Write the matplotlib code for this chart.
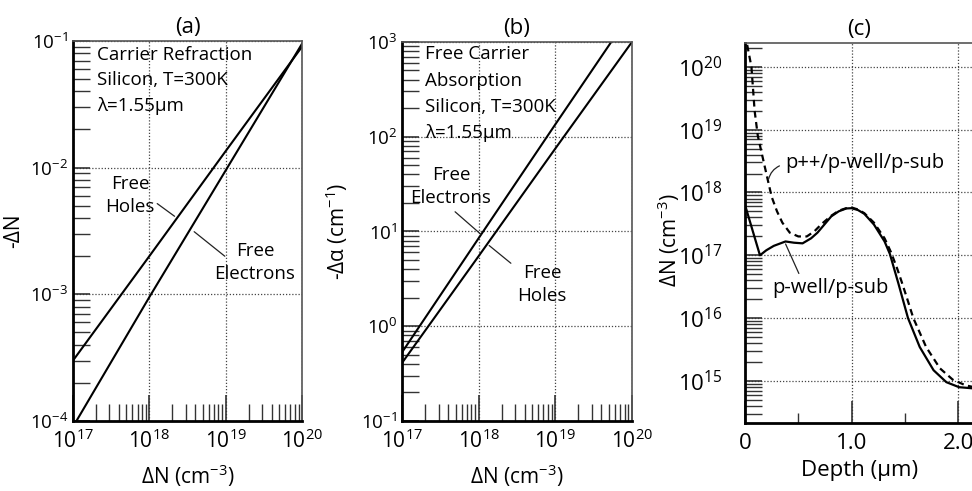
import numpy as np
import matplotlib
matplotlib.use("Agg")
import matplotlib.pyplot as plt
from matplotlib.ticker import LogLocator, FixedLocator, FuncFormatter, NullFormatter

plt.rcParams['font.family'] = ['Open Sans', 'DejaVu Sans']
plt.rcParams['mathtext.fontset'] = 'custom'
plt.rcParams['mathtext.rm'] = 'Open Sans'
plt.rcParams['mathtext.it'] = 'Open Sans:italic'
plt.rcParams['mathtext.bf'] = 'Open Sans:bold'

# --- data ---
# (a) carrier refraction, silicon, 1.55 um
dn_conc = [1e17, 1e18, 1e19, 1e20]
refr_holes = [3.0e-4, 2.0e-3, 1.35e-2, 9.0e-2]
refr_electrons = [9.0e-5, 9.5e-4, 9.5e-3, 9.5e-2]

# (b) free carrier absorption
abs_electrons = [0.53, 8.5, 135.0, 2100.0]
abs_holes = [0.41, 5.5, 75.0, 1000.0]

# (c) doping profiles vs depth
depth_pwell = [0.0, 0.14, 0.20, 0.27, 0.38, 0.46, 0.54, 0.62, 0.68, 0.75, 0.81,
               0.88, 0.95, 1.00, 1.06, 1.12, 1.21, 1.31, 1.36, 1.44, 1.53, 1.64,
               1.77, 1.89, 2.01, 2.15]
log_pwell = [17.80, 17.00, 17.08, 17.15, 17.22, 17.20, 17.19, 17.27, 17.36, 17.50,
             17.62, 17.70, 17.745, 17.75, 17.72, 17.66, 17.49, 17.22, 17.02, 16.55,
             16.00, 15.54, 15.17, 14.98, 14.90, 14.88]
depth_pplus = [0.02, 0.06, 0.09, 0.12, 0.16, 0.20, 0.25, 0.30, 0.35, 0.42, 0.50,
               0.58, 0.65, 0.72, 0.81, 0.88, 0.95, 1.00, 1.06, 1.12, 1.21, 1.31,
               1.37, 1.43, 1.47, 1.52, 1.58, 1.70, 1.83, 1.95, 2.07, 2.15]
log_pplus = [20.35, 20.00, 19.30, 18.90, 18.60, 18.30, 17.93, 17.70, 17.52, 17.36,
             17.30, 17.30, 17.38, 17.50, 17.63, 17.71, 17.75, 17.76, 17.73, 17.67,
             17.52, 17.27, 17.05, 16.78, 16.58, 16.32, 16.00, 15.54, 15.20, 15.02,
             14.93, 14.90]

grid_kw = dict(color='#444444', linestyle=(0, (1, 1.5)), linewidth=0.9)
note_fs = 13.5


def pow10(v, pos):
    return r'$10^{%d}$' % int(round(np.log10(v)))


def style_log_axes(ax, ylo, yhi):
    ax.set_xscale('log')
    ax.set_yscale('log')
    ax.set_xlim(1e17, 1e20)
    ax.set_ylim(ylo, yhi)
    ax.xaxis.set_major_locator(LogLocator(base=10, numticks=10))
    ax.xaxis.set_minor_locator(LogLocator(base=10, subs=np.arange(2, 10), numticks=10))
    ax.yaxis.set_major_locator(LogLocator(base=10, numticks=10))
    ax.yaxis.set_minor_locator(LogLocator(base=10, subs=np.arange(2, 10), numticks=10))
    ax.xaxis.set_major_formatter(FuncFormatter(pow10))
    ax.yaxis.set_major_formatter(FuncFormatter(pow10))
    ax.xaxis.set_minor_formatter(NullFormatter())
    ax.yaxis.set_minor_formatter(NullFormatter())
    ax.tick_params(which='both', direction='in', top=False, right=False, color='#333333')
    ax.tick_params(axis='x', which='major', length=19, width=1.2, labelsize=15, pad=6)
    ax.tick_params(axis='x', which='minor', length=12, width=1.0)
    ax.tick_params(axis='y', which='major', length=12, width=1.2, labelsize=13.5, pad=3.5)
    ax.tick_params(axis='y', which='minor', length=12, width=1.0)
    ax.grid(True, which='major', **grid_kw)
    for s in ['left', 'bottom']:
        ax.spines[s].set_linewidth(2.0)
    for s in ['top', 'right']:
        ax.spines[s].set_linewidth(1.2)
        ax.spines[s].set_color('#555555')


fig = plt.figure(figsize=(9.72, 4.91), dpi=100)

# ---------------- (a) ----------------
ax1 = fig.add_axes([0.0751, 0.1426, 0.2356, 0.774])
style_log_axes(ax1, 1e-4, 1e-1)
ax1.plot(dn_conc, refr_holes, color='black', lw=1.5)
ax1.plot(dn_conc, refr_electrons, color='black', lw=1.5)
ax1.set_title('(a)', fontsize=16, pad=6)
ax1.set_xlabel('ΔN (cm$^{-3}$)', fontsize=15)
ax1.set_ylabel('-ΔN', fontsize=15)
ax1.xaxis.set_label_coords(0.5, -0.108)
ax1.yaxis.set_label_coords(-0.215, 0.5)
for txt, yy in zip(['Carrier Refraction', 'Silicon, T=300K', 'λ=1.55µm'],
                   [0.963, 0.897, 0.829]):
    ax1.text(0.105, yy, txt, transform=ax1.transAxes, ha='left', va='center', fontsize=note_fs)
ax1.text(0.249, 0.593, 'Free\nHoles', transform=ax1.transAxes, ha='center',
         va='center', fontsize=note_fs, linespacing=1.35)
ax1.text(0.795, 0.418, 'Free\nElectrons', transform=ax1.transAxes, ha='center',
         va='center', fontsize=note_fs, linespacing=1.35)
ax1.annotate('', xy=(10**18.36, 10**-2.397), xytext=(10**18.074, 10**-2.271),
             arrowprops=dict(arrowstyle='-', lw=0.9, color='#222222'))
ax1.annotate('', xy=(10**18.559, 10**-2.492), xytext=(10**19.017, 10**-2.713),
             arrowprops=dict(arrowstyle='-', lw=0.9, color='#222222'))

# ---------------- (b) ----------------
ax2 = fig.add_axes([0.4136, 0.1426, 0.2366, 0.772])
style_log_axes(ax2, 1e-1, 1e3)
ax2.plot(dn_conc, abs_electrons, color='black', lw=1.5)
ax2.plot(dn_conc, abs_holes, color='black', lw=1.5)
ax2.set_title('(b)', fontsize=16, pad=6)
ax2.set_xlabel('ΔN (cm$^{-3}$)', fontsize=15)
ax2.set_ylabel('-Δα (cm$^{-1}$)', fontsize=15)
ax2.xaxis.set_label_coords(0.5, -0.108)
ax2.yaxis.set_label_coords(-0.225, 0.5)
for txt, yy in zip(['Free Carrier', 'Absorption', 'Silicon, T=300K', 'λ=1.55µm'],
                   [0.968, 0.897, 0.828, 0.760]):
    ax2.text(0.10, yy, txt, transform=ax2.transAxes, ha='left', va='center', fontsize=note_fs)
ax2.text(0.213, 0.619, 'Free\nElectrons', transform=ax2.transAxes, ha='center',
         va='center', fontsize=note_fs, linespacing=1.35)
ax2.text(0.609, 0.359, 'Free\nHoles', transform=ax2.transAxes, ha='center',
         va='center', fontsize=note_fs, linespacing=1.35)
ax2.annotate('', xy=(10**18.057, 10**0.95), xytext=(10**17.665, 10**1.227),
             arrowprops=dict(arrowstyle='-', lw=0.9, color='#222222'))
ax2.annotate('', xy=(10**18.109, 10**0.87), xytext=(10**18.448, 10**0.646),
             arrowprops=dict(arrowstyle='-', lw=0.9, color='#222222'))

# ---------------- (c) ----------------
ax3 = fig.add_axes([0.7665, 0.1385, 0.2356, 0.774])
ax3.set_yscale('log')
ax3.set_xlim(0, 2.15)
ax3.set_ylim(10**14.33, 10**20.38)
ax3.plot(depth_pwell, 10.0 ** np.array(log_pwell), color='black', lw=1.6)
ax3.plot(depth_pplus, 10.0 ** np.array(log_pplus), color='black', lw=1.6,
         linestyle=(0, (3, 2)))
ax3.xaxis.set_major_locator(FixedLocator([0.0, 1.0, 2.0]))
ax3.xaxis.set_minor_locator(FixedLocator([0.5, 1.5]))
ax3.xaxis.set_major_formatter(FuncFormatter(lambda v, p: '0' if v == 0 else '%.1f' % v))
ax3.yaxis.set_major_locator(LogLocator(base=10, numticks=12))
ax3.yaxis.set_minor_locator(LogLocator(base=10, subs=np.arange(2, 10), numticks=12))
ax3.yaxis.set_major_formatter(FuncFormatter(pow10))
ax3.yaxis.set_minor_formatter(NullFormatter())
ax3.tick_params(which='both', direction='in', top=False, right=False, color='#333333')
ax3.tick_params(axis='x', which='major', length=16, width=1.2, labelsize=16, pad=7)
ax3.tick_params(axis='x', which='minor', length=7, width=1.0)
ax3.tick_params(axis='y', which='major', length=12, width=1.2, labelsize=16, pad=16)
ax3.tick_params(axis='y', which='minor', length=12, width=1.0)
ax3.grid(True, which='major', **grid_kw)
for s in ['left', 'bottom']:
    ax3.spines[s].set_linewidth(2.0)
for s in ['top', 'right']:
    ax3.spines[s].set_linewidth(1.2)
    ax3.spines[s].set_color('#555555')
ax3.set_title('(c)', fontsize=16, pad=6)
ax3.set_xlabel('Depth (µm)', fontsize=16)
ax3.set_ylabel('ΔN (cm$^{-3}$)', fontsize=15)
ax3.xaxis.set_label_coords(0.5, -0.098)
ax3.yaxis.set_label_coords(-0.275, 0.48)
ax3.text(0.175, 0.684, 'p++/p-well/p-sub', transform=ax3.transAxes, ha='left',
         va='center', fontsize=14.5)
ax3.text(0.118, 0.355, 'p-well/p-sub', transform=ax3.transAxes, ha='left',
         va='center', fontsize=14.5)
ax3.annotate('', xy=(0.216, 10**18.17), xytext=(0.347, 10**18.44),
             arrowprops=dict(arrowstyle='-', lw=0.9, color='#222222',
                             connectionstyle='arc3,rad=0.3'))
ax3.annotate('', xy=(0.37, 10**17.22), xytext=(0.516, 10**16.67),
             arrowprops=dict(arrowstyle='-', lw=0.9, color='#222222'))

fig.savefig('out.png', dpi=100)
